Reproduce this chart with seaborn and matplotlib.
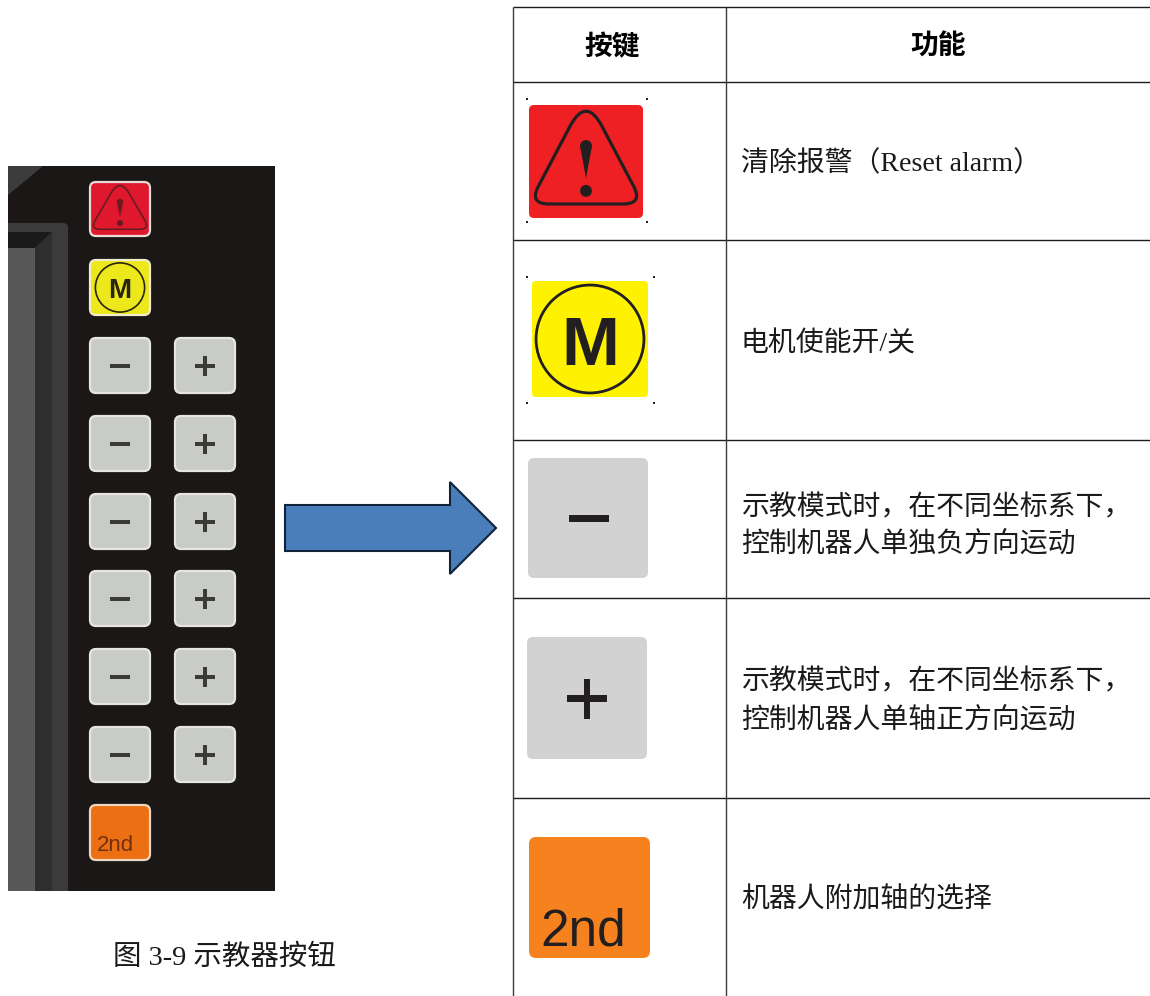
import matplotlib
matplotlib.use("Agg")
import matplotlib.pyplot as plt
import seaborn as sns
from matplotlib.patches import Circle, FancyBboxPatch, Polygon, Rectangle, PathPatch
from matplotlib.path import Path

sns.set_theme(style="white")
plt.rcParams['font.family'] = ['Liberation Serif', 'Noto Sans CJK SC']

# text
header_labels = ["按键", "功能"]
function_lines = [
    ["清除报警（Reset alarm）"],
    ["电机使能开/关"],
    ["示教模式时，在不同坐标系下，", "控制机器人单独负方向运动"],
    ["示教模式时，在不同坐标系下，", "控制机器人单轴正方向运动"],
    ["机器人附加轴的选择"],
]
function_line_y = [[164], [344], [508, 544], [682, 720], [900]]
caption = "图 3-9 示教器按钮"

# table layout, in pixels
table_left, table_col, table_right = 513, 726, 1150
row_lines = [7, 82, 240, 440, 598, 798]
table_bottom = 996

# panel layout, in pixels
col_left, col_right = 90, 175
button_tops = [182, 260, 338, 416, 494, 571, 649, 727, 805]
pair_tops = button_tops[2:8]

# colours
INK = "#231f20"
SERIF_CJK = ['Liberation Serif', 'Noto Sans CJK SC']
SANS = ['Liberation Sans']

fig = plt.figure(figsize=(11.5, 9.96), dpi=100, facecolor="white")
ax = fig.add_axes([0, 0, 1, 1])
ax.set_xlim(0, 1150)
ax.set_ylim(996, 0)
ax.axis("off")


def key_box(x, y, w, h, face, edge, radius, lw):
    ax.add_patch(FancyBboxPatch((x, y), w, h, boxstyle=f"round,pad=0,rounding_size={radius}",
                                facecolor=face, edgecolor=edge, linewidth=lw))


def rounded_triangle(pts, radii):
    # each corner is cut back by its radius and closed with a quadratic curve
    verts, codes = [], []
    n = len(pts)
    for i in range(n):
        px, py = pts[i]
        ax_, ay_ = pts[i - 1]
        bx, by = pts[(i + 1) % n]
        r = radii[i]
        d1 = ((ax_ - px) ** 2 + (ay_ - py) ** 2) ** 0.5
        d2 = ((bx - px) ** 2 + (by - py) ** 2) ** 0.5
        start = (px + (ax_ - px) * r / d1, py + (ay_ - py) * r / d1)
        end = (px + (bx - px) * r / d2, py + (by - py) * r / d2)
        verts += [start, (px, py), end]
        codes += [Path.MOVETO if i == 0 else Path.LINETO, Path.CURVE3, Path.CURVE3]
    verts.append(verts[0])
    codes.append(Path.CLOSEPOLY)
    return Path(verts, codes)


def alarm_key(x, y, w, h, face, edge, ink, radius, lw, tri_lw):
    key_box(x, y, w, h, face, edge, radius, lw)
    tri = [(x + 0.5 * w, y - 0.08 * h), (x, y + 0.876 * h), (x + w, y + 0.876 * h)]
    radii = [0.3 * w, 0.175 * w, 0.175 * w]
    ax.add_patch(PathPatch(rounded_triangle(tri, radii), facecolor="none", edgecolor=ink, linewidth=tri_lw))
    cx = x + 0.5 * w
    hw = 0.052 * w
    top = y + 0.31 * h
    ax.add_patch(Circle((cx, top + hw), hw, facecolor=ink, edgecolor="none"))
    ax.add_patch(Polygon([(cx - hw, top + hw), (cx + hw, top + hw), (cx, y + 0.65 * h)],
                         facecolor=ink, edgecolor="none"))
    ax.add_patch(Circle((cx, y + 0.76 * h), hw, facecolor=ink, edgecolor="none"))


def motor_key(x, y, w, h, face, edge, ink, radius, lw, ring, ring_lw, size, base):
    key_box(x, y, w, h, face, edge, radius, lw)
    ax.add_patch(Circle((x + 0.5 * w, y + 0.5 * h), ring * w, facecolor="none", edgecolor=ink, linewidth=ring_lw))
    ax.text(x + 0.5 * w, y + base * h, "M", family=SANS, fontweight="bold", fontsize=size,
            color=ink, ha="center", va="baseline")


def sign_key(x, y, w, h, face, edge, ink, radius, lw, plus):
    key_box(x, y, w, h, face, edge, radius, lw)
    cx, cy = x + 0.5 * w + (0.008 * w if not plus else 0), y + 0.505 * h
    hw, th = w / 6, 0.058 * w
    ax.add_patch(Rectangle((cx - hw, cy - th / 2), 2 * hw, th, facecolor=ink, edgecolor="none"))
    if plus:
        ax.add_patch(Rectangle((cx - th / 2, cy - hw), th, 2 * hw, facecolor=ink, edgecolor="none"))


def second_key(x, y, w, h, face, edge, ink, radius, lw, size, off, base):
    key_box(x, y, w, h, face, edge, radius, lw)
    ax.text(x + off * w, y + base * h, "2nd", family=SANS, fontsize=size, color=ink, ha="left", va="baseline")


# teach pendant panel
ax.add_patch(Rectangle((8, 166), 267, 725, facecolor="#1a1716", edgecolor="none"))
ax.add_patch(Polygon([(8, 166), (43, 166), (8, 195)], facecolor="#3c3c3c", edgecolor="none"))
ax.add_patch(FancyBboxPatch((-10, 223), 78, 700, boxstyle="round,pad=0,rounding_size=5",
                            facecolor="#3b3b3b", edgecolor="none"))
ax.add_patch(Rectangle((8, 891), 70, 60, facecolor="white", edgecolor="none"))
ax.add_patch(Rectangle((0, 166), 8, 800, facecolor="white", edgecolor="none"))
ax.add_patch(Polygon([(8, 232), (52, 232), (35, 248), (8, 248)], facecolor="#1b1a1a", edgecolor="none"))
ax.add_patch(Polygon([(52, 232), (52, 891), (35, 891), (35, 248)], facecolor="#2e2e2e", edgecolor="none"))
ax.add_patch(Rectangle((8, 248), 27, 643, facecolor="#585858", edgecolor="none"))

alarm_key(col_left, button_tops[0], 60, 54, "#e0182d", "#e8dcd8", "#6a1a20", 6, 1.6, 1.2)
motor_key(col_left, button_tops[1], 60, 55, "#ece81c", "#efeccf", "#2a2510", 6, 1.6, 0.41, 1.2, 20, 0.69)
for top in pair_tops:
    sign_key(col_left, top, 60, 55, "#c9cbc9", "#e6e6e0", "#3a3a38", 6, 1.6, False)
    sign_key(col_right, top, 60, 55, "#c9cbc9", "#e6e6e0", "#3a3a38", 6, 1.6, True)
second_key(col_left, button_tops[8], 60, 55, "#ec6f13", "#f0d8c0", "#73300f", 6, 1.6, 16, 0.11, 0.84)

ax.text(224.5, 958, caption, family=SERIF_CJK, fontsize=20.5, color="#1a1a1a", ha="center", va="center")

# arrow
arrow_x = [285, 450, 450, 496, 450, 450, 285]
arrow_y = [505, 505, 482, 528, 574, 551, 551]
ax.add_patch(Polygon(list(zip(arrow_x, arrow_y)), closed=True, facecolor="#4a7ebb", edgecolor="#0e2338", linewidth=1.5))

# table rules
for y in row_lines:
    ax.plot([table_left, table_right], [y, y], color="#1c1c1c", linewidth=1.0, solid_capstyle="butt")
for x in [table_left, table_col]:
    ax.plot([x, x], [row_lines[0], table_bottom], color="#3c3c3c", linewidth=1.0, solid_capstyle="butt")

ax.text(612, 55, header_labels[0], family=SERIF_CJK, fontweight="bold", fontsize=20, color="black",
        ha="center", va="baseline")
ax.text(938, 55, header_labels[1], family=SERIF_CJK, fontweight="bold", fontsize=20, color="black",
        ha="center", va="baseline")

for lines, ys in zip(function_lines, function_line_y):
    for line, y in zip(lines, ys):
        ax.text(741, y, line, family=SERIF_CJK, fontsize=20.1, color="#1a1a1a", ha="left", va="center")

# table keys
alarm_key(529, 105, 114, 113, "#ee2024", "none", INK, 5, 0, 2.3)
motor_key(532, 281, 116, 116, "#fff200", "none", INK, 4, 0, 0.465, 2.0, 50, 0.724)
sign_key(528, 458, 120, 120, "#d2d2d2", "none", INK, 6, 0, False)
sign_key(527, 637, 120, 122, "#d2d2d2", "none", INK, 6, 0, True)
second_key(529, 837, 121, 121, "#f5821f", "none", INK, 7, 0, 37, 0.09, 0.893)

# small dark corner remains of the pasted key images
corner_x = [527, 647, 527, 647, 527, 654, 527, 654]
corner_y = [99, 99, 222, 222, 277, 277, 403, 403]
ax.scatter(corner_x, corner_y, s=3, color=INK, marker="s", linewidths=0)

fig.savefig("out.png", dpi=100, facecolor="white")
